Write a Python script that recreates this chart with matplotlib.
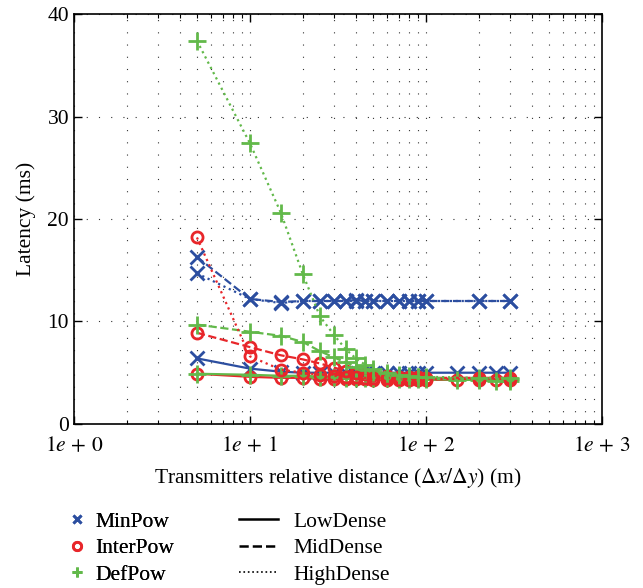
import numpy as np
import matplotlib
matplotlib.use('Agg')
from matplotlib import pyplot as plt
from matplotlib.lines import Line2D
from matplotlib.ticker import FixedLocator, FixedFormatter, LogLocator, NullFormatter

plt.rcParams['font.family'] = ['Liberation Serif', 'DejaVu Serif']
plt.rcParams['mathtext.fontset'] = 'stix'
font_size = 15.5

# distances (m)
x_low = [5, 10, 15, 20, 25, 30, 35, 40, 45, 50, 60, 70, 80, 90, 100, 150, 200, 250, 300]
x_mid = [5, 10, 15, 20, 25, 30, 35, 40, 45, 50, 60, 70, 80, 90, 100, 200, 300]
x_high = [5, 10, 15, 20, 25, 30, 35, 40, 45, 50, 60, 70, 80, 90, 100, 200, 300]

# latency (ms)
minpow_low = [6.4, 5.4, 5.1, 5.0, 5.0, 5.0, 5.0, 5.0, 5.0, 5.0, 5.0, 5.0, 5.0, 5.0, 5.0, 5.0, 5.0, 5.0, 5.0]
minpow_mid = [16.3, 12.2, 11.9, 12.0, 12.0, 12.0, 12.0, 12.1, 12.0, 12.0, 12.0, 12.0, 12.0, 12.0, 12.0, 12.0, 12.0]
minpow_high = [14.7, 12.2, 11.8, 12.0, 12.0, 12.0, 12.0, 12.0, 12.0, 12.0, 12.0, 12.0, 12.0, 12.0, 12.0, 12.0, 12.0]

interpow_low = [4.9, 4.6, 4.5, 4.5, 4.4, 4.4, 4.4, 4.4, 4.4, 4.3, 4.3, 4.3, 4.3, 4.3, 4.3, 4.3, 4.3, 4.3, 4.3]
interpow_mid = [8.9, 7.5, 6.7, 6.3, 5.9, 5.5, 5.2, 5.0, 4.9, 4.8, 4.7, 4.6, 4.6, 4.6, 4.5, 4.5, 4.5]
interpow_high = [18.2, 6.6, 5.3, 5.0, 4.8, 4.7, 4.6, 4.6, 4.5, 4.5, 4.5, 4.4, 4.4, 4.4, 4.4, 4.4, 4.4]

defpow_low = [4.9, 4.8, 4.7, 4.7, 4.6, 4.6, 4.5, 4.5, 4.5, 4.5, 4.5, 4.4, 4.4, 4.4, 4.4, 4.3, 4.3, 4.2, 4.2]
defpow_mid = [9.7, 9.0, 8.6, 8.0, 7.1, 6.5, 6.0, 5.6, 5.3, 5.1, 4.8, 4.7, 4.6, 4.6, 4.5, 4.4, 4.4]
defpow_high = [37.4, 27.4, 20.6, 14.6, 10.5, 8.7, 7.3, 6.4, 5.8, 5.4, 5.0, 4.8, 4.7, 4.6, 4.6, 4.5, 4.5]

blue = '#2c4ea0'
red = '#e8262a'
green = '#62b94a'

fig = plt.figure(figsize=(6.43, 5.88), dpi=100)
ax = fig.add_axes([0.115, 0.279, 0.821, 0.697])

lw = 1.6
# LowDense
ax.plot(x_low, minpow_low, '-', color=blue, lw=lw, marker='x', ms=10, mew=2)
ax.plot(x_low, interpow_low, '-', color=red, lw=lw, marker='o', ms=8, mew=2, mfc='none')
ax.plot(x_low, defpow_low, '-', color=green, lw=lw, marker='+', ms=13, mew=2)
# MidDense
ax.plot(x_mid, minpow_mid, '--', color=blue, lw=lw, marker='x', ms=10, mew=2)
ax.plot(x_mid, interpow_mid, '--', color=red, lw=lw, marker='o', ms=8, mew=2, mfc='none')
ax.plot(x_mid, defpow_mid, '--', color=green, lw=lw, marker='+', ms=13, mew=2)
# HighDense
ax.plot(x_high, minpow_high, ':', color=blue, lw=lw, marker='x', ms=10, mew=2)
ax.plot(x_high, interpow_high, ':', color=red, lw=lw, marker='o', ms=8, mew=2, mfc='none')
ax.plot(x_high, defpow_high, ':', color=green, lw=lw, marker='+', ms=13, mew=2)

ax.set_xscale('log')
ax.set_xlim(1, 1000)
ax.set_ylim(0, 40)
ax.xaxis.set_major_locator(FixedLocator([1, 10, 100, 1000]))
ax.xaxis.set_major_formatter(FixedFormatter([r'$1e\,+\,0$', r'$1e\,+\,1$', r'$1e\,+\,2$', r'$1e\,+\,3$']))
ax.xaxis.set_minor_locator(LogLocator(base=10, subs=np.arange(2, 10), numticks=20))
ax.xaxis.set_minor_formatter(NullFormatter())
ax.set_yticks([0, 10, 20, 30, 40])

ax.tick_params(which='both', direction='in', top=True, right=True, labelsize=font_size)
ax.tick_params(which='major', length=6, width=1)
ax.tick_params(which='minor', length=3, width=0.8)
ax.tick_params(axis='x', which='major', pad=9)
for s in ax.spines.values():
    s.set_linewidth(1.2)

grid_style = dict(color='#333333', linestyle=(0, (1, 10)), linewidth=0.8)
ax.grid(True, which='both', axis='x', **grid_style)
ax.grid(True, which='major', axis='y', **grid_style)
ax.set_axisbelow(True)

ax.set_xlabel(r'Transmitters relative distance ($\Delta x/\Delta y$) (m)', fontsize=font_size, labelpad=7)
ax.set_ylabel('Latency (ms)', fontsize=font_size, labelpad=8)

# legend: markers column and line style column
marker_handles = [
    Line2D([], [], ls='none', marker='x', color=blue, ms=6, mew=2),
    Line2D([], [], ls='none', marker='o', color=red, ms=6, mew=2, mfc='none'),
    Line2D([], [], ls='none', marker='+', color=green, ms=7, mew=2),
]
style_handles = [
    Line2D([], [], ls='-', color='black', lw=1.8),
    Line2D([], [], ls='--', color='black', lw=1.8),
    Line2D([], [], ls=':', color='black', lw=1.2),
]
leg1 = fig.legend(marker_handles, ['MinPow', 'InterPow', 'DefPow'], loc='upper left',
                  bbox_to_anchor=(0.105, 0.130), frameon=False, fontsize=font_size,
                  handlelength=0.9, handletextpad=0.4, borderpad=0, borderaxespad=0,
                  labelspacing=0.3, numpoints=1)
leg2 = fig.legend(style_handles, ['LowDense', 'MidDense', 'HighDense'], loc='upper left',
                  bbox_to_anchor=(0.372, 0.130), frameon=False, fontsize=font_size,
                  handlelength=1.8, handletextpad=0.7, borderpad=0, borderaxespad=0,
                  labelspacing=0.3)
fig.add_artist(leg1)

plt.savefig('out.png', dpi=100)
